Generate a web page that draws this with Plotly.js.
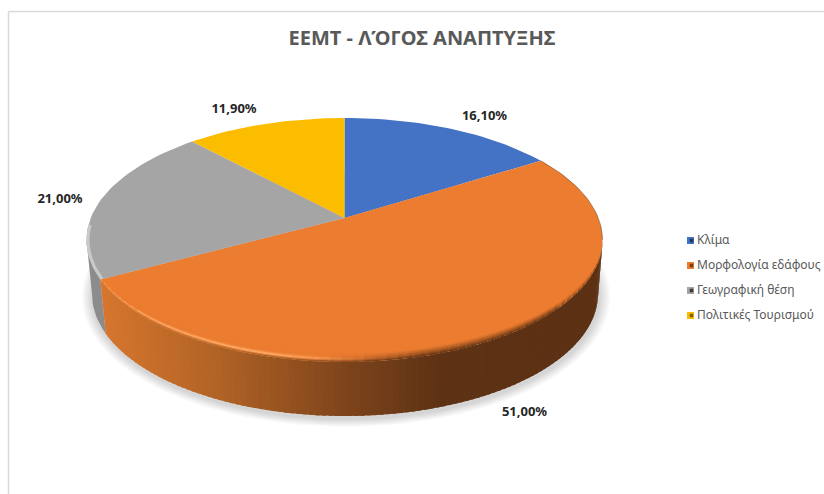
<!DOCTYPE html>
<html><head><meta charset="utf-8">
<script src="https://cdn.plot.ly/plotly-3.0.1.min.js"></script>
<style>html,body{margin:0;padding:0;background:#fff}#c{width:824px;height:494px}</style>
</head><body><div id="c"></div>
<script>
const categories = ["Κλίμα","Μορφολογία εδάφους","Γεωγραφική θέση","Πολιτικές Τουρισμού"];
const values = [16.10,51.00,21.00,11.90];
const labels = ["16,10%","51,00%","21,00%","11,90%"];
const colors = ["#4472C4","#EB7C30","#A5A5A5","#FCBD00"];
const titleText = "ΕΕΜΤ - ΛΌΓΟΣ ΑΝΑΠΤΥΞΗΣ";

// view geometry of the tilted disc, in plot units (axes map 1:1 to the page)
const TOP = {cx:344.5, cy:240, a:258, b:122};
const BOT = {cx:345, cy:294, a:253, b:122};
const C = (240-218)/122;           // perspective shift of the disc centre
const labelPos = [[484.5,116.5],[524.5,412.5],[60,199.5],[234,109.5]];
const legendY = [240.5,265.5,290.5,315.5];
const FONT = '"Noto Sans", "Open Sans", sans-serif';

// pie angle (radians clockwise from 12 o'clock) -> ellipse parameter
function param(th){
  const x=Math.sin(th), Y=-Math.cos(th), d=1-C*Y;
  return Math.atan2((Y-C)/d, x*Math.sqrt(1-C*C)/d);
}
const pt=(E,t,dy=0)=>[E.cx+E.a*Math.cos(t), E.cy+E.b*Math.sin(t)-dy];
const traces=[];
function poly(pts,fill,extra){
  traces.push(Object.assign({type:'scatter',mode:'lines',x:pts.map(p=>p[0]),y:pts.map(p=>p[1]),
    fill:'toself',fillcolor:fill,line:{width:0,color:fill},hoverinfo:'skip',showlegend:false},extra||{}));
}
const rgb=c=>'rgb('+c.map(v=>Math.round(v)).join(',')+')';
function ramp(stops,x){
  if(x<=stops[0][0])return stops[0][1];
  for(let i=1;i<stops.length;i++) if(x<=stops[i][0]){
    const f=(x-stops[i-1][0])/(stops[i][0]-stops[i-1][0]);
    return stops[i-1][1].map((v,k)=>v+(stops[i][1][k]-v)*f);
  }
  return stops[stops.length-1][1];
}
// cumulative slice limits
const total=values.reduce((a,b)=>a+b,0);
let cum=0; const lim=[0];
values.forEach(v=>{cum+=v;lim.push(cum/total*2*Math.PI);});
const tBoundary=param(lim[2])<0?param(lim[2])+2*Math.PI:param(lim[2]); // grey/orange edge on the rim

// soft shadow
for(let i=0;i<7;i++){
  const grow=(7-i)*1.6, pts=[];
  for(let k=0;k<=90;k++){const t=k/90*2*Math.PI;
    pts.push([BOT.cx+1+(BOT.a+grow)*Math.cos(t), BOT.cy+3+(BOT.b+grow*0.7)*Math.sin(t)]);}
  poly(pts,'rgba(0,0,0,0.022)');
}
// side wall, grey part
{
  const pts=[],n=16; const tA=tBoundary,tB=Math.PI;
  for(let k=0;k<=n;k++)pts.push(pt(TOP,tA+(tB-tA)*k/n));
  for(let k=n;k>=0;k--)pts.push(pt(BOT,tA+(tB-tA)*k/n));
  poly(pts,'#8C8C8C');
}
// side wall, orange part, shaded left to right
const wallStops=[[100,[214,118,46]],[220,[176,98,37]],[350,[124,67,27]],[440,[94,50,20]],[610,[92,49,20]]];
const nWall=110;
for(let k=0;k<nWall;k++){
  const t0=tBoundary*(1-k/nWall), t1=Math.max(0,tBoundary*(1-(k+1.6)/nWall)), pts=[];
  const xm=pt(TOP,tBoundary*(1-(k+.5)/nWall))[0];
  const m=4;
  for(let j=0;j<=m;j++)pts.push(pt(TOP,t0+(t1-t0)*(j/m)));
  for(let j=m;j>=0;j--)pts.push(pt(BOT,t0+(t1-t0)*(j/m)));
  poly(pts,rgb(ramp(wallStops,xm)));
}
// top faces
values.forEach((v,i)=>{
  const pts=[], n=Math.max(12,Math.round(v*2));
  const th0=lim[i],th1=lim[i+1];
  const x0=TOP.cx, y0=TOP.cy+TOP.b*(-C);
  pts.push([x0,y0]);
  for(let k=0;k<=n;k++){
    const th=th0+(th1-th0)*k/n;
    pts.push(pt(TOP,param(th)));
  }
  pts.push([x0,y0]);
  poly(pts,colors[i],{name:categories[i]});
});
// bevel strips along the front rim of the orange slice
const base=[235,124,48], hi=[255,172,104];
const rimDark=[94,50,20];
const nRim=64, nDepth=8;
for(let k=0;k<nRim;k++){
  const t0=tBoundary*(1-k/nRim), t1=Math.max(0,tBoundary*(1-(k+1.3)/nRim));
  const tm=tBoundary*(1-(k+.5)/nRim);
  const x=pt(TOP,tm)[0];
  const dark=Math.min(1,Math.max(0,(x-320)/100));  // 0 = highlit left, 1 = shaded right
  const lightAmt=Math.max(0,1-Math.max(0,(x-270))/110);
  const wallHere=ramp(wallStops,x);
  const fade=Math.pow(Math.max(0,Math.sin(tm)),.7);
  for(let j=nDepth-1;j>=0;j--){
    const u=(j+.5)/nDepth;               // 0 at the outer edge, 1 inside
    const d0=j*fade, d1=(j+1.3)*fade;
    if(d1-d0<0.05)continue;
    // highlight ridge on the left, dark blend on the right
    const ridge=Math.exp(-Math.pow((u-.35)/.2,2))*lightAmt;
    const lit=ramp([[0,base],[1,hi]],ridge);
    const edge=ramp([[0,wallHere],[.25,lit],[1,lit]],u);
    const shade=ramp([[0,rimDark],[1,base]],Math.pow(u,.8));
    const c=edge.map((v,i)=>v+(shade[i]-v)*dark);
    poly([pt(TOP,t0,d0),pt(TOP,t1,d0),pt(TOP,t1,d1),pt(TOP,t0,d1)],rgb(c));
  }
}
// light edge on the grey slice and thin shaded edge on the upper right of the orange slice
{
  const xs=[],ys=[],n=20;
  for(let k=0;k<=n;k++){const t=tBoundary+(Math.PI*1.04-tBoundary)*k/n;const p=pt(TOP,t);xs.push(p[0]+1.5);ys.push(p[1]-1.5*Math.sin(t));}
  traces.push({type:'scatter',mode:'lines',x:xs,y:ys,line:{color:'#C9C9C9',width:3},hoverinfo:'skip',showlegend:false});
  const xr=[],yr=[],tS=param(lim[1]);
  for(let k=0;k<=n;k++){const t=tS*(1-k/n);const p=pt(TOP,t);xr.push(p[0]);yr.push(p[1]);}
  traces.push({type:'scatter',mode:'lines',x:xr,y:yr,line:{color:'rgba(94,50,20,0.45)',width:1},hoverinfo:'skip',showlegend:false});
}
// data labels
traces.push({type:'scatter',mode:'text',x:labelPos.map(p=>p[0]),y:labelPos.map(p=>p[1]),text:labels,
  textposition:'middle center',textfont:{family:FONT,size:13,color:'#262626',weight:700},hoverinfo:'skip',showlegend:false,cliponaxis:false});
// legend
const swatchX=categories.map(()=>690.5);
traces.push({type:'scatter',mode:'markers',x:swatchX,y:legendY,
  marker:{symbol:'square',size:7,color:colors,line:{width:0}},hoverinfo:'skip',showlegend:false});
traces.push({type:'scatter',mode:'markers',x:swatchX.map(v=>v+1),y:legendY,
  marker:{symbol:'square',size:3.5,color:['#1F3864','#843C0C','#3B3B3B','#7F6000'],line:{width:0}},hoverinfo:'skip',showlegend:false});
traces.push({type:'scatter',mode:'text',x:swatchX.map(v=>v+6.5),y:legendY,text:categories,
  textposition:'middle right',textfont:{family:FONT,size:12,color:'#595959'},hoverinfo:'skip',showlegend:false,cliponaxis:false});

const layout={
  width:824,height:494,margin:{l:0,r:0,t:0,b:0},paper_bgcolor:'#fff',plot_bgcolor:'#fff',
  showlegend:false,hovermode:false,
  title:{text:titleText,x:422/824,xanchor:'center',y:1-37.5/494,yanchor:'middle',
    font:{family:FONT,size:20,color:'#595959',weight:700}},
  xaxis:{range:[0,824],visible:false,fixedrange:true},
  yaxis:{range:[494,0],visible:false,fixedrange:true},
  shapes:[
    {type:'line',xref:'x',yref:'y',x0:8.5,x1:824,y0:11.5,y1:11.5,line:{color:'#D9D9D9',width:1.5}},
    {type:'line',xref:'x',yref:'y',x0:8.5,x1:8.5,y0:11.5,y1:494,line:{color:'#D9D9D9',width:1.5}}
  ]
};
Plotly.newPlot('c',traces,layout,{staticPlot:true,displayModeBar:false});
</script></body></html>
